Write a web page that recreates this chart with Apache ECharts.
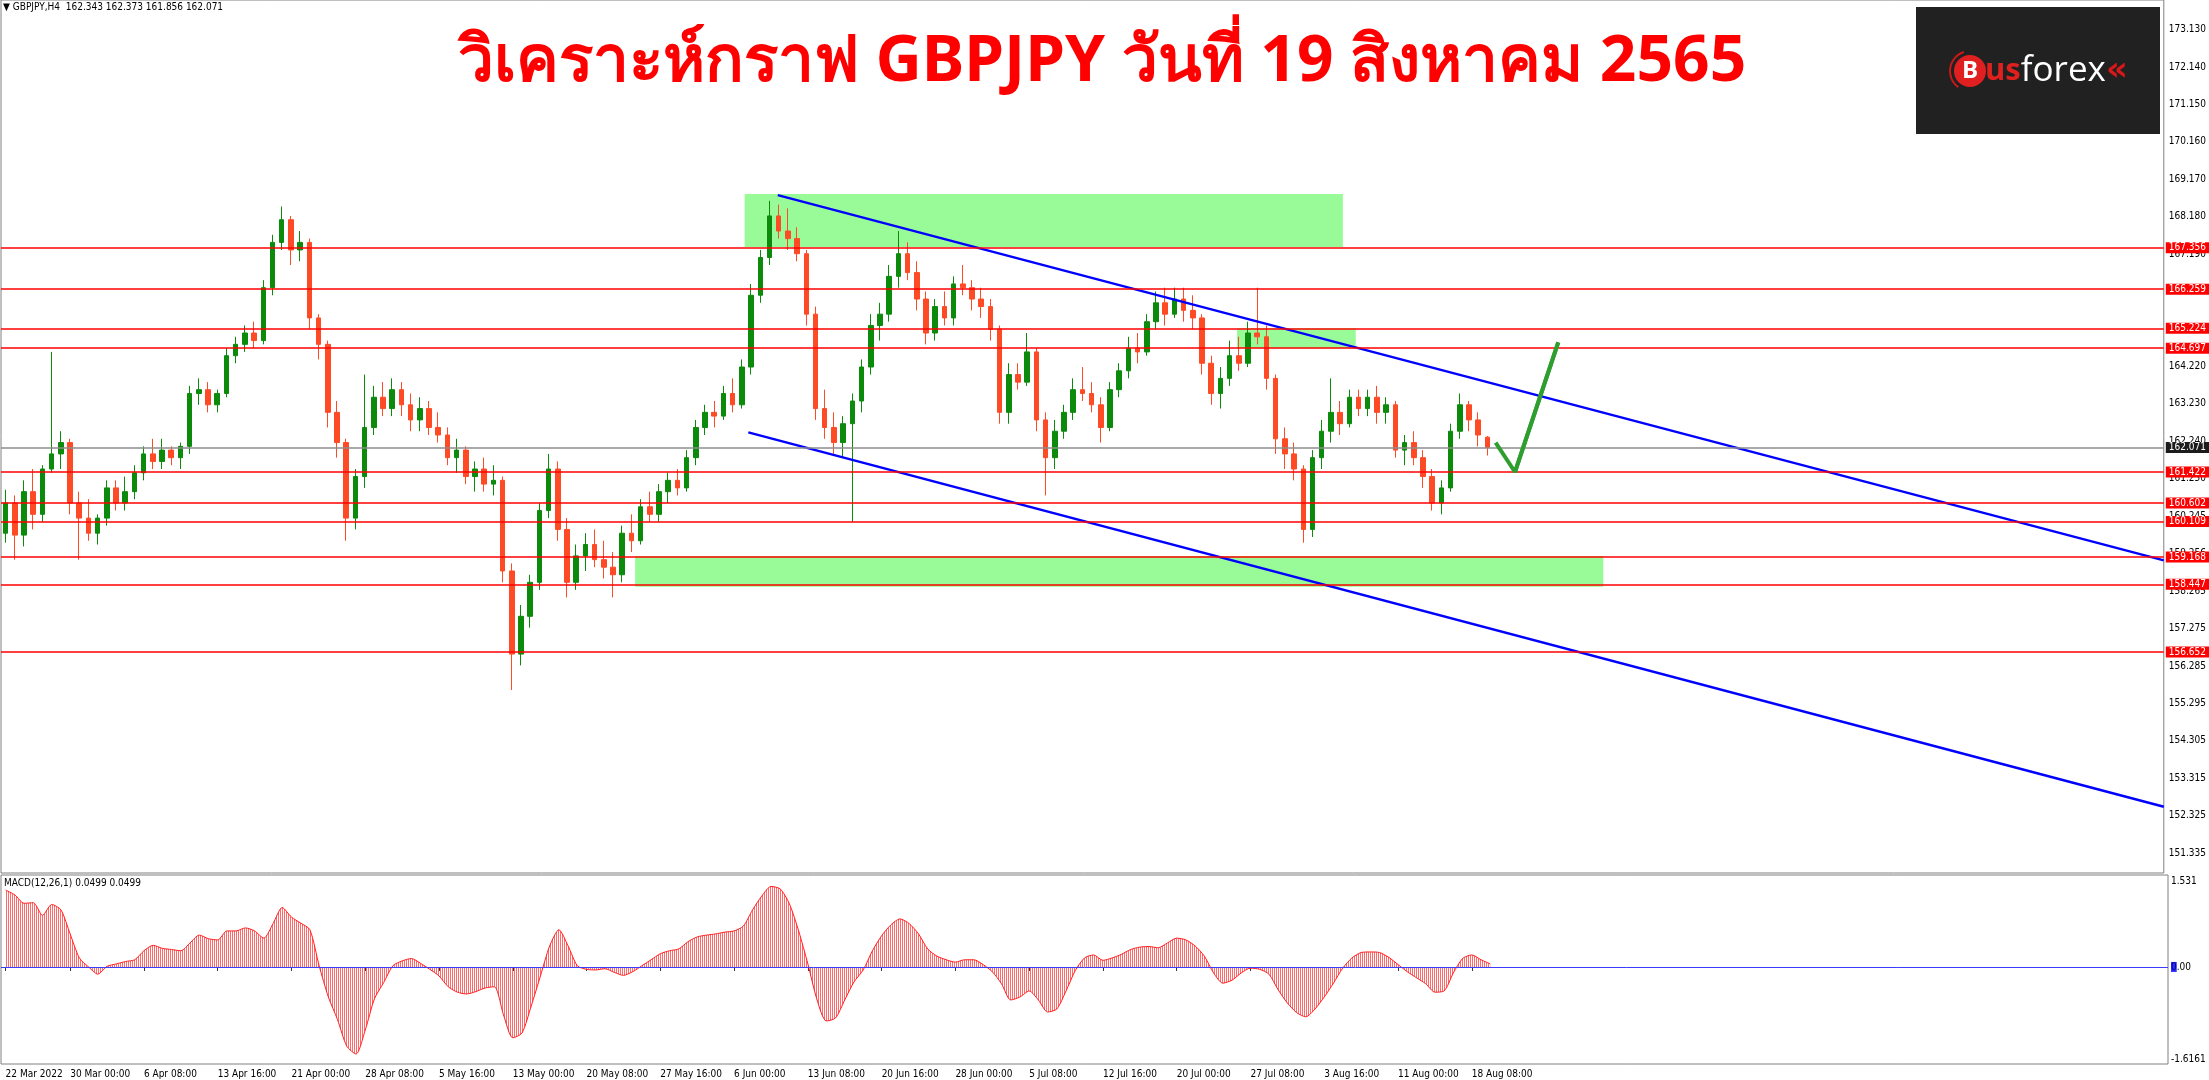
<!DOCTYPE html>
<html><head><meta charset="utf-8">
<script src="https://cdn.jsdelivr.net/npm/echarts@6/dist/echarts.min.js"></script>
<style>html,body{margin:0;padding:0;background:#fff;}#c{width:2209px;height:1080px;}</style>
</head><body><div id="c"></div>
<script>
// ---------------- DATA ----------------
const timeLabels = ['22 Mar 2022','30 Mar 00:00','6 Apr 08:00','13 Apr 16:00','21 Apr 00:00','28 Apr 08:00','5 May 16:00','13 May 00:00','20 May 08:00','27 May 16:00','6 Jun 00:00','13 Jun 08:00','20 Jun 16:00','28 Jun 00:00','5 Jul 08:00','12 Jul 16:00','20 Jul 00:00','27 Jul 08:00','3 Aug 16:00','11 Aug 00:00','18 Aug 08:00'];
const opens = [
159.8,160.6,159.75,160.9,160.3,161.5,161.9,162.2,160.6,160.2,
159.8,160.2,161.0,160.6,160.9,161.4,161.9,161.7,162.0,161.8,
162.1,163.5,163.6,163.2,163.5,164.5,164.8,165.1,164.9,166.3,
167.5,168.1,167.3,167.5,165.5,164.8,163.0,162.2,160.2,161.3,
162.6,163.4,163.1,163.6,163.2,162.8,163.1,162.6,162.4,161.8,
162.0,161.3,161.5,161.1,161.2,158.8,156.6,157.6,158.5,160.4,
161.5,159.9,158.5,159.2,159.5,159.1,158.9,158.7,159.8,159.6,
160.5,160.3,160.9,161.2,161.0,161.8,162.6,163.0,162.9,163.5,
163.2,164.2,166.1,167.1,168.2,167.8,167.6,167.2,165.6,163.1,
162.6,162.2,162.7,163.3,164.2,165.3,165.6,166.6,167.2,166.7,
166.0,165.1,165.8,165.5,166.4,166.3,166.0,165.8,165.2,163.0,
164.0,163.8,164.6,162.8,161.8,162.5,163.0,163.6,163.5,163.2,
162.6,163.6,164.1,164.7,164.6,165.4,165.9,165.6,166.0,165.7,
165.5,164.3,163.5,163.9,164.5,164.3,165.1,165.0,163.9,162.3,
161.9,161.5,159.9,161.8,162.5,163.0,162.7,163.4,163.1,163.4,
163.0,163.2,162.0,162.2,161.8,161.3,160.6,161.0,162.5,163.2,
162.8,162.343];
const highs = [
160.95,160.8,161.2,161.5,161.6,164.6,162.5,162.3,160.9,160.7,
160.3,161.2,161.2,161.3,161.6,162.1,162.3,162.3,162.1,162.2,
163.7,163.9,163.8,163.6,164.7,165.0,165.3,165.4,166.5,167.7,
168.45,168.2,167.8,167.6,165.6,164.9,163.3,162.3,161.5,164.0,
163.7,163.8,163.9,163.8,163.5,163.4,163.3,163.0,162.6,162.3,
162.1,161.7,161.8,161.6,161.3,159.0,157.9,158.7,160.6,161.9,
161.7,160.2,159.5,159.8,159.9,159.6,159.3,160.0,160.3,160.7,
160.9,161.1,161.4,161.5,162.0,162.8,163.2,163.3,163.7,163.9,
164.4,166.4,167.3,168.6,168.5,168.4,167.9,167.3,165.8,163.6,
163.0,162.9,163.5,164.4,165.6,165.9,166.9,167.8,167.5,167.0,
166.2,166.0,166.2,166.6,166.9,166.5,166.3,166.0,165.3,164.3,
164.3,165.1,164.7,163.0,162.8,163.2,163.9,164.2,163.8,163.4,
163.8,164.3,165.0,165.1,165.6,166.2,166.3,166.3,166.3,166.1,
165.6,164.5,164.2,164.9,165.0,165.4,166.3,165.3,164.0,162.6,
162.2,161.6,162.0,162.8,163.9,163.3,163.6,163.6,163.6,163.7,
163.4,163.3,162.4,162.5,162.0,161.5,161.2,162.7,163.5,163.3,
163.0,162.373];
const lows = [
159.55,159.1,159.45,159.9,160.1,161.4,161.5,160.3,159.1,159.6,
159.5,160.0,160.4,160.4,160.7,161.2,161.5,161.5,161.6,161.5,
161.9,163.2,163.0,163.0,163.4,164.3,164.6,164.7,164.8,166.1,
167.3,166.9,167.0,165.2,164.4,162.6,161.8,159.6,159.9,161.0,
162.4,162.9,162.9,162.9,162.5,162.5,162.4,162.2,161.6,161.4,
161.1,160.9,160.9,160.8,158.5,155.65,156.3,157.3,158.3,160.2,
159.6,158.1,158.3,158.8,158.9,158.6,158.1,158.5,159.3,159.5,
160.1,160.1,160.6,160.8,160.9,161.6,162.4,162.6,162.8,163.0,
163.1,164.0,165.9,166.9,167.6,167.3,167.0,165.3,162.8,162.3,
161.9,161.8,160.1,163.0,164.0,164.9,165.4,166.3,166.5,165.7,
164.8,164.9,165.3,165.3,166.1,165.7,165.5,164.9,162.7,162.7,
163.6,163.7,162.5,160.8,161.5,162.3,162.8,163.3,163.0,162.2,
162.5,163.4,163.9,164.3,164.5,165.2,165.3,165.5,165.4,165.2,
164.0,163.2,163.1,163.7,164.1,164.2,164.8,163.6,161.9,161.5,
161.2,159.55,159.7,161.5,162.2,162.4,162.6,162.9,162.9,162.7,
162.7,161.8,161.6,161.6,161.0,160.4,160.3,160.9,162.3,162.5,
162.1,161.856];
const closes = [
160.6,159.75,160.9,160.3,161.5,161.9,162.2,160.6,160.2,159.8,
160.2,161.0,160.6,160.9,161.4,161.9,161.7,162.0,161.8,162.1,
163.5,163.6,163.2,163.5,164.5,164.8,165.1,164.9,166.3,167.5,
168.1,167.3,167.5,165.5,164.8,163.0,162.2,160.2,161.3,162.6,
163.4,163.1,163.6,163.2,162.8,163.1,162.6,162.4,161.8,162.0,
161.3,161.5,161.1,161.2,158.8,156.6,157.6,158.5,160.4,161.5,
159.9,158.5,159.2,159.5,159.1,158.9,158.7,159.8,159.6,160.5,
160.3,160.9,161.2,161.0,161.8,162.6,163.0,162.9,163.5,163.2,
164.2,166.1,167.1,168.2,167.8,167.6,167.2,165.6,163.1,162.6,
162.2,162.7,163.3,164.2,165.3,165.6,166.6,167.2,166.7,166.0,
165.1,165.8,165.5,166.4,166.3,166.0,165.8,165.2,163.0,164.0,
163.8,164.6,162.8,161.8,162.5,163.0,163.6,163.5,163.2,162.6,
163.6,164.1,164.7,164.6,165.4,165.9,165.6,166.0,165.7,165.5,
164.3,163.5,163.9,164.5,164.3,165.1,165.0,163.9,162.3,161.9,
161.5,159.9,161.8,162.5,163.0,162.7,163.4,163.1,163.4,163.0,
163.2,162.0,162.2,161.8,161.3,160.6,161.0,162.5,163.2,162.8,
162.4,162.071];
const macd = [
1.28,1.20,1.06,1.07,0.86,1.04,0.95,0.55,0.15,0.00,
-0.12,0.01,0.05,0.09,0.12,0.27,0.36,0.31,0.29,0.27,
0.40,0.53,0.47,0.45,0.60,0.60,0.65,0.60,0.48,0.72,
0.99,0.83,0.73,0.62,0.02,-0.50,-0.88,-1.32,-1.45,-1.05,
-0.53,-0.26,0.02,0.10,0.14,0.06,-0.04,-0.15,-0.33,-0.42,
-0.45,-0.41,-0.35,-0.33,-0.80,-1.18,-1.10,-0.65,-0.15,0.35,
0.62,0.35,0.02,-0.04,-0.05,-0.03,-0.09,-0.14,-0.08,0.02,
0.12,0.22,0.27,0.30,0.42,0.50,0.53,0.55,0.58,0.60,
0.68,0.95,1.18,1.34,1.30,1.05,0.60,0.05,-0.55,-0.90,
-0.85,-0.55,-0.25,-0.05,0.27,0.52,0.70,0.80,0.72,0.55,
0.30,0.18,0.12,0.08,0.12,0.12,0.04,-0.08,-0.28,-0.55,
-0.50,-0.40,-0.55,-0.75,-0.70,-0.40,-0.06,0.15,0.20,0.11,
0.15,0.21,0.29,0.33,0.34,0.32,0.40,0.48,0.45,0.35,
0.18,-0.10,-0.27,-0.22,-0.10,-0.02,-0.04,-0.12,-0.38,-0.60,
-0.76,-0.83,-0.70,-0.50,-0.27,-0.02,0.15,0.24,0.25,0.24,
0.16,0.04,-0.08,-0.18,-0.28,-0.42,-0.40,-0.10,0.14,0.20,
0.12,0.05];
const levels = [167.356,166.259,165.224,164.697,161.422,160.602,160.109,159.168,158.447,156.652];
const bidPrice = 162.071;
const priceTicks = [151.335,152.325,153.315,154.305,155.295,156.285,157.275,158.265,159.256,160.245,161.250,162.240,163.230,164.220,165.210,166.200,167.190,168.180,169.170,170.160,171.150,172.140,173.130];
const macdTicks = [-1.6161, 0, 1.531];
// zones: [xStart, priceTop, xEnd, priceBottom] in candle-index units
const zones = [[80.3,168.78,145.3,167.38],[133.8,165.224,146.7,164.697],[68.4,159.20,173.6,158.38]];
const trendUpper = [[83.9,168.75],[234.5,159.08]];
const trendLower = [[80.7,162.47],[234.5,152.56]];
const arrowPath = [[161.9,162.20],[164.0,161.42],[168.7,164.85]];
const NCAT = 235;

// ---------------- BUILD ----------------
const categories = new Array(NCAT).fill('');
timeLabels.forEach((t, k) => { categories[k === 0 ? 0 : 8 * k - 1] = t; });
const candleData = opens.map((o, i) => [o, closes[i], lows[i], highs[i]]);

const FONT = "'Liberation Sans Narrow','DejaVu Sans Condensed','Liberation Sans',sans-serif";
const pc = document.createElement('canvas'); pc.width = 2; pc.height = 4;
const pg = pc.getContext('2d'); pg.fillStyle = '#ff6a6a'; pg.fillRect(0, 0, 1, 4);

const redTag = {show:true, position:'end', distance:2, formatter:p => Number(p.value).toFixed(3), color:'#fff', backgroundColor:'#ff0000', fontSize:10, fontFamily:FONT, padding:[1,3,0,3]};
const bidTag = Object.assign({}, redTag, {backgroundColor:'#1c1c1c'});

const chart = echarts.init(document.getElementById('c'));
chart.setOption({
  animation:false,
  backgroundColor:'#ffffff',
  grid:[
    {left:1, top:0, width:2167, height:873, show:true, borderColor:'#808080', borderWidth:1},
    {left:1, top:875, width:2167, height:189, show:true, borderColor:'#808080', borderWidth:1}
  ],
  xAxis:[
    {type:'category', gridIndex:0, data:categories, boundaryGap:true, show:false},
    {type:'value', gridIndex:0, min:-0.5, max:NCAT-0.5, show:false},
    {type:'category', gridIndex:1, data:categories, boundaryGap:true,
      axisLine:{show:false}, splitLine:{show:false},
      axisTick:{show:true, alignWithLabel:true, interval:(i, v) => v !== '', length:4, lineStyle:{color:'#333'}},
      axisLabel:{interval:0, align:'left', fontSize:10, fontFamily:FONT, color:'#000', margin:5, hideOverlap:false}}
  ],
  yAxis:[
    {type:'value', gridIndex:0, position:'right', min:150.804, max:173.917,
      axisLine:{show:false}, splitLine:{show:false}, axisTick:{show:false},
      axisLabel:{customValues:priceTicks, formatter:v => v.toFixed(3), fontSize:10, fontFamily:FONT, color:'#000', margin:5}},
    {type:'value', gridIndex:1, position:'right', min:-1.6161, max:1.531,
      axisLine:{show:false}, splitLine:{show:false}, axisTick:{show:false},
      axisLabel:{customValues:macdTicks, margin:3, fontSize:10, fontFamily:FONT, color:'#000',
        formatter:v => v > 1 ? '{t|' + v.toFixed(3) + '}' : (v < -1 ? '{b|' + v.toFixed(4) + '}' : '{z|0}{n|.00}'),
        rich:{
          t:{padding:[12,0,0,0], fontSize:10, fontFamily:FONT, color:'#000'},
          b:{padding:[0,0,10,0], fontSize:10, fontFamily:FONT, color:'#000'},
          z:{backgroundColor:'#2a2aff', color:'#000080', fontSize:10, fontFamily:FONT},
          n:{fontSize:10, fontFamily:FONT, color:'#000'}
        }}}
  ],
  series:[
    {name:'zones', type:'line', xAxisIndex:1, yAxisIndex:0, data:[], z:1, silent:true,
      markArea:{silent:true, itemStyle:{color:'#98fb98', opacity:1},
        data:zones.map(zn => [{coord:[zn[0], zn[1]]}, {coord:[zn[2], zn[3]]}])}},
    {name:'GBPJPY', type:'candlestick', xAxisIndex:0, yAxisIndex:0, z:2, data:candleData,
      barWidth:'55%', barMaxWidth:5,
      itemStyle:{color:'#0b8a0b', color0:'#ff4a26', borderColor:'#0b8a0b', borderColor0:'#ff4a26', borderWidth:1}},
    {name:'levels', type:'line', xAxisIndex:1, yAxisIndex:0, data:[], z:3, silent:true,
      markLine:{silent:true, symbol:['none','none'], precision:3,
        data:levels.map(v => ({yAxis:v, lineStyle:{color:'#ff0000', width:1.5, type:'solid'}, label:redTag}))
          .concat([{yAxis:bidPrice, lineStyle:{color:'#8c8c8c', width:1.5, type:'solid'}, label:bidTag}])}},
    {name:'upper', type:'line', xAxisIndex:1, yAxisIndex:0, data:trendUpper, symbol:'none', z:4,
      lineStyle:{color:'#0000ff', width:2.5}},
    {name:'lower', type:'line', xAxisIndex:1, yAxisIndex:0, data:trendLower, symbol:'none', z:4,
      lineStyle:{color:'#0000ff', width:2.5}},
    {name:'arrow', type:'line', xAxisIndex:1, yAxisIndex:0, data:arrowPath, symbol:'none', z:5,
      lineStyle:{color:'#2e9e2e', width:4},
      markLine:{silent:true, symbol:['none','arrow'], symbolSize:[0,22], label:{show:false},
        lineStyle:{color:'#2e9e2e', width:4, type:'solid'},
        data:[[{coord:arrowPath[1]}, {coord:arrowPath[2]}]]}},
    {name:'MACD', type:'line', xAxisIndex:2, yAxisIndex:1, data:macd, symbol:'none', smooth:0.25, z:3,
      lineStyle:{color:'#ff2020', width:1},
      areaStyle:{color:{image:pc, repeat:'repeat'}, opacity:1, origin:0},
      markLine:{silent:true, symbol:['none','none'], label:{show:false},
        data:[{yAxis:0, lineStyle:{color:'#3c3cff', width:1, type:'solid'}}]}}
  ],
  graphic:[
    {type:'text', left:3, top:2, z:10, style:{text:'▼ GBPJPY,H4  162.343 162.373 161.856 162.071', fontSize:10, fontFamily:FONT, fill:'#000'}},
    {type:'text', left:4, top:878, z:10, style:{text:'MACD(12,26,1) 0.0499 0.0499', fontSize:10, fontFamily:FONT, fill:'#000'}},
    {type:'text', x:1102, y:63, z:10, style:{text:'วิเคราะห์กราฟ GBPJPY วันที่ 19 สิงหาคม 2565', fontSize:64, fontWeight:'bold',
      fontFamily:"'Noto Sans','DejaVu Sans',sans-serif", fill:'#ff0000', align:'center', verticalAlign:'middle', textAlign:'center', textVerticalAlign:'middle'}},
    {type:'group', x:1916, y:7, z:10, children:[
      {type:'rect', shape:{x:0, y:0, width:244, height:127}, style:{fill:'#212121'}},
      {type:'arc', shape:{cx:54, cy:64, r:20, startAngle:2.2, endAngle:4.4}, style:{stroke:'#c81818', lineWidth:2, fill:null}},
      {type:'circle', shape:{cx:54, cy:64, r:16}, style:{fill:'#e02020'}},
      {type:'text', x:54, y:64, style:{text:'B', fill:'#fff', fontSize:24, fontWeight:'bold', fontFamily:"'Open Sans',sans-serif",
        align:'center', verticalAlign:'middle', textAlign:'center', textVerticalAlign:'middle'}},
      {type:'text', x:69, y:64, style:{text:'{a|us}{b|forex}{c|«}', verticalAlign:'middle', textVerticalAlign:'middle',
        rich:{a:{fill:'#e0201c', color:'#e0201c', fontSize:31, fontWeight:'bold', fontFamily:"'Open Sans',sans-serif"},
              b:{fill:'#ffffff', color:'#ffffff', fontSize:35, fontFamily:"'Open Sans',sans-serif"},
              c:{fill:'#d81818', color:'#d81818', fontSize:34, fontWeight:'bold', fontFamily:"'DejaVu Sans',sans-serif"}}}}
    ]}
  ]
});
</script></body></html>
